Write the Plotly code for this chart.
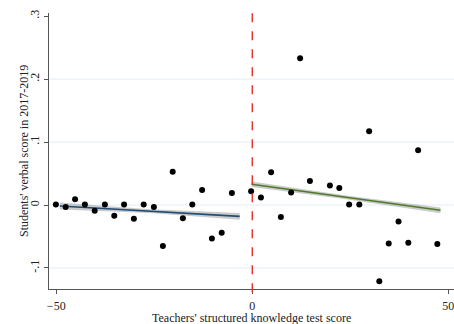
import plotly.graph_objects as go

# Binned scatter points
x_left = [-50.1, -47.6, -45.2, -42.7, -40.2, -37.6, -35.2, -32.7, -30.2, -27.7,
          -25.1, -22.8, -20.3, -17.7, -15.3, -12.8, -10.3, -7.8, -5.2]
y_left = [0.001, -0.003, 0.009, 0.001, -0.009, 0.001, -0.017, 0.001, -0.022, 0.001,
          -0.003, -0.065, 0.053, -0.021, 0.001, 0.024, -0.053, -0.044, 0.019]
x_right = [-0.3, 2.2, 4.8, 7.3, 9.9, 12.2, 14.7, 19.8, 22.2, 24.7, 27.3,
           29.8, 32.4, 34.8, 37.3, 39.8, 42.3, 47.2]
y_right = [0.022, 0.012, 0.052, -0.019, 0.020, 0.233, 0.038, 0.031, 0.027, 0.001, 0.001,
           0.117, -0.121, -0.061, -0.026, -0.060, 0.087, -0.062]

# Linear fits with confidence bands
fit_left_x = [-49.1, -26.15, -3.2]
fit_left_y = [-0.0016, -0.0098, -0.018]
fit_left_hw = [0.0055, 0.003, 0.0055]
fit_right_x = [-0.2, 23.9, 48.0]
fit_right_y = [0.033, 0.0123, -0.0084]
fit_right_hw = [0.0045, 0.003, 0.0045]

y_ticks = [-0.1, 0, 0.1, 0.2, 0.3]
y_tick_text = ["-.1", "0", ".1", ".2", ".3"]
grid_vals = [-0.1, 0, 0.1, 0.2]
x_ticks = [-50, 0, 50]
cutoff = 0

x_title = "Teachers' structured knowledge test score"
y_title = "Students' verbal score in 2017-2019"

FONT = "Liberation Serif, Times New Roman, serif"

fig = go.Figure()


def add_band(xs, ys, hw, line_color):
    upper = [y + h for y, h in zip(ys, hw)]
    lower = [y - h for y, h in zip(ys, hw)]
    fig.add_trace(go.Scatter(x=xs + xs[::-1], y=upper + lower[::-1], fill="toself",
                             fillcolor="rgba(160,160,160,0.55)", line=dict(width=0),
                             mode="lines", hoverinfo="skip", showlegend=False))
    fig.add_trace(go.Scatter(x=xs, y=ys, mode="lines",
                             line=dict(color=line_color, width=1.6), showlegend=False))


add_band(fit_left_x, fit_left_y, fit_left_hw, "#1f4e79")
add_band(fit_right_x, fit_right_y, fit_right_hw, "#4f7a28")

fig.add_trace(go.Scatter(x=x_left + x_right, y=y_left + y_right, mode="markers",
                         marker=dict(color="black", size=6), showlegend=False))

for g in grid_vals:
    fig.add_shape(type="line", xref="paper", x0=0, x1=1, yref="y", y0=g, y1=g,
                  line=dict(color="#e3edf3", width=1), layer="below")

fig.add_shape(type="line", xref="x", x0=cutoff, x1=cutoff, yref="paper", y0=-0.012, y1=1,
              line=dict(color="#e8302a", width=1.4, dash="dash"))

fig.add_annotation(text=x_title, xref="paper", yref="paper", x=0.5, y=0,
                   yshift=-29, yanchor="middle", showarrow=False, font=dict(size=12))
fig.add_annotation(text=y_title, xref="paper", yref="paper", x=0, y=0.5,
                   xshift=-25, textangle=-90, xanchor="center", showarrow=False,
                   font=dict(size=12))

fig.update_layout(
    width=454, height=324,
    margin=dict(l=49, r=0, t=13, b=35),
    plot_bgcolor="white", paper_bgcolor="white",
    font=dict(family=FONT, size=12, color="#222"),
    xaxis=dict(range=[-51.85, 51.45], tickvals=x_ticks, showgrid=False, zeroline=False,
               showline=True, linecolor="#555", linewidth=1, ticks="outside", ticklen=4,
               tickcolor="#555", automargin=False, ticklabeloverflow="allow",
               ticklabelstandoff=2),
    yaxis=dict(range=[-0.1334, 0.305], tickvals=y_ticks, ticktext=y_tick_text,
               tickangle=-90, showgrid=False, zeroline=False,
               showline=True, linecolor="#555", linewidth=1, ticks="outside", ticklen=4,
               tickcolor="#555", automargin=False, ticklabeloverflow="allow"),
)

fig.write_html("out.html", config={"displayModeBar": False},
               post_script="document.body.style.margin='0';"
                           "document.body.style.overflow='hidden';")
